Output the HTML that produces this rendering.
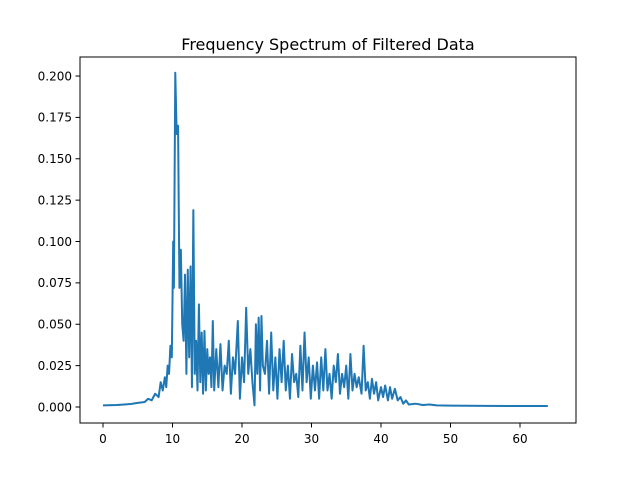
<!DOCTYPE html>
<html><head><meta charset="utf-8"><style>
body{margin:0;background:#fff;}
svg text{font-family:"DejaVu Sans","Liberation Sans",sans-serif;fill:#000;}
</style></head><body>
<svg id="chart" width="640" height="476" xmlns="http://www.w3.org/2000/svg">
<rect width="640" height="476" fill="#fff"/>
<text x="328" y="50" font-size="16" text-anchor="middle">Frequency Spectrum of Filtered Data</text>
<g id="xt"></g><g id="yt"></g>
<polyline id="line" fill="none" stroke="#1f77b4" stroke-width="2" stroke-linejoin="round"/>
<rect x="80" y="57" width="496" height="366" fill="none" stroke="#000" stroke-width="1"/>
</svg>
<script>
const freqs=[0,2,4,5,6,6.5,7,7.5,8,8.3,8.6,8.9,9.1,9.3,9.5,9.7,9.9,10.1,10.2,10.4,10.6,10.8,11.0,11.2,11.4,11.6,11.8,12.0,12.2,12.4,12.6,12.8,13.0,13.2,13.4,13.6,13.8,14.0,14.2,14.4,14.6,14.8,15.0,15.2,15.4,15.6,15.8,16.0,16.3,16.6,16.9,17.2,17.5,17.8,18.1,18.4,18.7,19.0,19.4,19.7,20.0,20.3,20.6,20.9,21.2,21.5,21.8,22.0,22.2,22.4,22.6,22.8,23.0,23.3,23.6,23.9,24.2,24.5,24.8,25.1,25.4,25.7,26.0,26.3,26.6,26.9,27.2,27.5,27.8,28.1,28.4,28.7,29.0,29.3,29.6,29.9,30.2,30.5,30.8,31.1,31.4,31.7,32.0,32.3,32.6,32.9,33.2,33.5,33.8,34.1,34.4,34.7,35.0,35.3,35.6,35.9,36.2,36.5,36.8,37.2,37.5,37.8,38.1,38.4,38.7,39.0,39.3,39.6,40.0,40.3,40.6,41.0,41.3,41.6,42.0,42.4,42.8,43.2,43.6,44,45,46,47,48,50,55,60,64];
const amps=[0.001,0.0012,0.0018,0.0025,0.003,0.005,0.004,0.008,0.006,0.015,0.01,0.018,0.012,0.025,0.02,0.037,0.03,0.1,0.072,0.202,0.165,0.17,0.072,0.095,0.05,0.04,0.08,0.02,0.083,0.03,0.085,0.012,0.119,0.02,0.04,0.01,0.062,0.015,0.045,0.008,0.046,0.01,0.035,0.02,0.03,0.012,0.052,0.01,0.035,0.012,0.038,0.01,0.025,0.02,0.04,0.008,0.03,0.02,0.052,0.005,0.03,0.015,0.06,0.02,0.035,0.015,0.001,0.05,0.02,0.054,0.01,0.055,0.025,0.02,0.04,0.008,0.045,0.01,0.03,0.005,0.035,0.015,0.04,0.01,0.025,0.005,0.032,0.015,0.02,0.006,0.037,0.01,0.045,0.015,0.03,0.005,0.025,0.01,0.027,0.005,0.03,0.01,0.035,0.01,0.02,0.005,0.025,0.015,0.032,0.008,0.02,0.012,0.025,0.005,0.032,0.01,0.02,0.012,0.018,0.008,0.037,0.01,0.015,0.005,0.017,0.008,0.015,0.004,0.012,0.006,0.013,0.004,0.012,0.005,0.011,0.004,0.006,0.002,0.004,0.0015,0.002,0.0012,0.0015,0.001,0.0008,0.0007,0.0006,0.0006];
const xTicks=[0,10,20,30,40,50,60];
const yTicks=[0,0.025,0.05,0.075,0.1,0.125,0.15,0.175,0.2];
const L=80,R=576,T=57,B=423;
const xmin=-3.31,xmax=68.06,ymin=-0.00967,ymax=0.2115;
const sx=v=>L+(v-xmin)/(xmax-xmin)*(R-L);
const sy=v=>B-(v-ymin)/(ymax-ymin)*(B-T);
const NS="http://www.w3.org/2000/svg";
const line=document.getElementById('line');
line.setAttribute('points',freqs.map((f,i)=>sx(f).toFixed(2)+','+sy(amps[i]).toFixed(2)).join(' '));
const xt=document.getElementById('xt'),yt=document.getElementById('yt');
xTicks.forEach(v=>{
 const l=document.createElementNS(NS,'line');
 
 
 l.setAttribute('x1',sx(v));l.setAttribute('x2',sx(v));l.setAttribute('y1',B);l.setAttribute('y2',B+4.5);l.setAttribute('stroke','#000');l.setAttribute('stroke-width','1');
 xt.appendChild(l);
 const t=document.createElementNS(NS,'text');
 
 
 t.setAttribute('x',sx(v));t.setAttribute('y',B+20);t.setAttribute('font-size','12');t.setAttribute('text-anchor','middle');
 t.textContent=v;xt.appendChild(t);
});
yTicks.forEach(v=>{
 const l=document.createElementNS(NS,'line');
 
 
 l.setAttribute('x1',L-4.5);l.setAttribute('x2',L);l.setAttribute('y1',sy(v));l.setAttribute('y2',sy(v));l.setAttribute('stroke','#000');l.setAttribute('stroke-width','1');
 yt.appendChild(l);
 const t=document.createElementNS(NS,'text');
 
 
 t.setAttribute('x',L-8);t.setAttribute('y',sy(v)+4.3);t.setAttribute('font-size','12');t.setAttribute('text-anchor','end');
 t.textContent=v.toFixed(3);yt.appendChild(t);
});
</script>
</body></html>
